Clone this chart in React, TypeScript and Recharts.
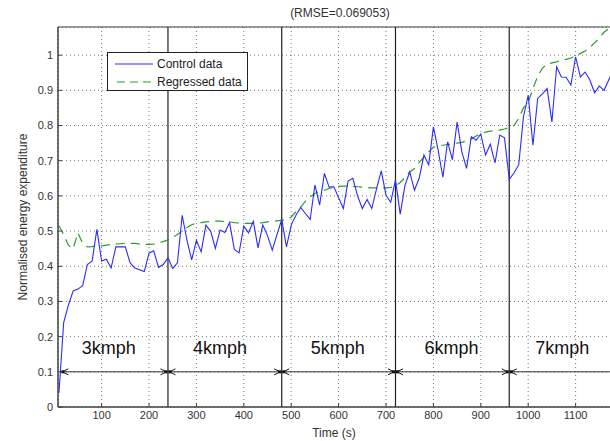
import React from 'react'
import {
  LineChart, Line, XAxis, YAxis, CartesianGrid, ReferenceLine, ReferenceDot,
  ReferenceArea, Legend, Label,
} from 'recharts'

const FONT = '"Liberation Sans", Arial, sans-serif'

// time (s), sampled every 10 s
const times = [
  10, 20, 30, 40, 50, 60, 70, 80, 90, 100, 110, 120, 130, 140, 150, 160, 170, 180, 190, 200,
  210, 220, 230, 240, 250, 260, 270, 280, 290, 300, 310, 320, 330, 340, 350, 360, 370, 380, 390, 400,
  410, 420, 430, 440, 450, 460, 470, 480, 490, 500, 510, 520, 530, 540, 550, 560, 570, 580, 590, 600,
  610, 620, 630, 640, 650, 660, 670, 680, 690, 700, 710, 720, 730, 740, 750, 760, 770, 780, 790, 800,
  810, 820, 830, 840, 850, 860, 870, 880, 890, 900, 910, 920, 930, 940, 950, 960, 970, 980, 990, 1000,
  1010, 1020, 1030, 1040, 1050, 1060, 1070, 1080, 1090, 1100, 1110, 1120, 1130, 1140, 1150, 1160, 1170, 1180, 1190, 1200,
]

const controlData = [
  0.04, 0.24, 0.29, 0.33, 0.335, 0.345, 0.405, 0.415, 0.505, 0.415, 0.42, 0.395, 0.455, 0.455, 0.455, 0.41, 0.395, 0.39, 0.385, 0.437,
  0.444, 0.397, 0.405, 0.424, 0.394, 0.41, 0.545, 0.474, 0.418, 0.474, 0.441, 0.517, 0.5, 0.451, 0.503, 0.496, 0.524, 0.448, 0.438, 0.514,
  0.495, 0.528, 0.452, 0.517, 0.487, 0.446, 0.49, 0.533, 0.455, 0.517, 0.545, 0.567, 0.55, 0.533, 0.631, 0.574, 0.664, 0.625, 0.626, 0.595,
  0.564, 0.642, 0.65, 0.6, 0.564, 0.59, 0.564, 0.62, 0.671, 0.602, 0.582, 0.645, 0.548, 0.63, 0.668, 0.616, 0.65, 0.716, 0.688, 0.796,
  0.73, 0.653, 0.754, 0.703, 0.81, 0.725, 0.678, 0.768, 0.758, 0.776, 0.716, 0.747, 0.694, 0.773, 0.765, 0.647, 0.665, 0.688, 0.825, 0.886,
  0.744, 0.877, 0.89, 0.905, 0.81, 0.967, 0.938, 0.937, 0.915, 0.995, 0.938, 0.952, 0.93, 0.893, 0.912, 0.9, 0.93, 0.96, 0.94, 0.95,
]

const regressedData = [
  0.515, 0.49, 0.46, 0.45, 0.495, 0.465, 0.455, 0.456, 0.458, 0.458, 0.46, 0.462, 0.463, 0.464, 0.465, 0.465, 0.465, 0.463, 0.462, 0.462,
  0.463, 0.467, 0.47, 0.475, 0.482, 0.49, 0.5, 0.51, 0.518, 0.522, 0.524, 0.526, 0.527, 0.528, 0.528, 0.527, 0.526, 0.524, 0.523, 0.522,
  0.522, 0.522, 0.523, 0.524, 0.526, 0.527, 0.529, 0.531, 0.533, 0.54, 0.555, 0.568, 0.585, 0.597, 0.607, 0.613, 0.616, 0.621, 0.625, 0.627,
  0.628, 0.628, 0.627, 0.626, 0.625, 0.624, 0.623, 0.623, 0.623, 0.623, 0.624, 0.628, 0.638, 0.652, 0.668, 0.678, 0.695, 0.71, 0.725, 0.738,
  0.742, 0.744, 0.746, 0.748, 0.75, 0.752, 0.757, 0.762, 0.77, 0.777, 0.781, 0.784, 0.786, 0.787, 0.79, 0.794, 0.8, 0.82, 0.85, 0.866,
  0.905, 0.94, 0.963, 0.975, 0.978, 0.981, 0.985, 0.988, 0.992, 0.997, 1.005, 1.012, 1.022, 1.035, 1.048, 1.065, 1.075, 1.085, 1.095, 1.1,
]

const xTicks = [100, 200, 300, 400, 500, 600, 700, 800, 900, 1000, 1100]
const yTicks = [0, 0.1, 0.2, 0.3, 0.4, 0.5, 0.6, 0.7, 0.8, 0.9, 1]

// speed stages
const stageBounds = [15, 240, 480, 720, 960, 1200]
const stageNames = ['3kmph', '4kmph', '5kmph', '6kmph', '7kmph']
const stageLabelX = [115, 350, 598, 838, 1072]
const arrowLevel = 0.1
const labelLevel = 0.17

const data = times.map((t, i) => ({ t, control: controlData[i], regressed: regressedData[i] }))

const BLUE = '#2b2bff'
const GREEN = '#2f9a2f'
const AXIS = '#404040'

function ArrowSeg(props: any) {
  const { x1, y1, x2 } = props
  const h = 7, w = 3
  return (
    <g stroke="#111" strokeWidth={1} fill="none">
      <line x1={x1} y1={y1} x2={x2} y2={y1} stroke="#333" />
      <polyline points={`${x1 + h},${y1 - w} ${x1 + 1},${y1} ${x1 + h},${y1 + w}`} />
      <polyline points={`${x2 - h},${y1 - w} ${x2 - 1},${y1} ${x2 - h},${y1 + w}`} />
      <rect x={x1} y={y1 - 1.5} width={3} height={3} fill="#111" stroke="none" />
      <rect x={x2 - 3} y={y1 - 1.5} width={3} height={3} fill="#111" stroke="none" />
    </g>
  )
}

function LegendBox() {
  return (
    <div style={{
      border: '1px solid #222', background: '#fff', width: 141, height: 39,
      fontFamily: FONT, fontSize: 12, color: '#222', boxSizing: 'border-box',
    }}>
      <div style={{ display: 'flex', alignItems: 'center', height: 19, marginTop: 1 }}>
        <svg width={46} height={10}><line x1={7} y1={5} x2={45} y2={5} stroke={BLUE} strokeWidth={1.2} /></svg>
        <span style={{ marginLeft: 3 }}>Control data</span>
      </div>
      <div style={{ display: 'flex', alignItems: 'center', height: 18 }}>
        <svg width={46} height={10}><line x1={9} y1={5} x2={45} y2={5} stroke={GREEN} strokeWidth={1.2} strokeDasharray="8 5" /></svg>
        <span style={{ marginLeft: 3 }}>Regressed data</span>
      </div>
    </div>
  )
}

export default function App() {
  const tickStyle = { fontSize: 11, fill: '#333', fontFamily: FONT }
  return (
    <div style={{ position: 'fixed', left: 0, top: 0, width: 610, height: 441, overflow: 'hidden', background: '#fff' }}>
      <div style={{
        position: 'absolute', left: 0, top: 6, width: 680, textAlign: 'center',
        fontFamily: FONT, fontSize: 12, color: '#333',
      }}>(RMSE=0.069053)</div>
      <LineChart width={640} height={441} data={data} margin={{ top: 27, right: 17, bottom: 0, left: 0 }}>
        <CartesianGrid stroke="#777" strokeDasharray="1 3" horizontalPoints={undefined} />
        <XAxis
          dataKey="t" type="number" domain={[8, 1200]} ticks={xTicks} allowDataOverflow
          height={34} tickSize={-4} tickMargin={8} stroke={AXIS} tick={tickStyle} interval={0}
        >
          <Label
            content={(p: any) => (
              <text x={334} y={p.viewBox.y + 30} textAnchor="middle" fontSize={12} fill="#333" fontFamily={FONT}>Time (s)</text>
            )}
          />
        </XAxis>
        <XAxis
          xAxisId="top" orientation="top" type="number" domain={[8, 1200]} ticks={xTicks}
          height={0} tickSize={-4} tick={false} stroke={AXIS} allowDataOverflow
        />
        <YAxis
          type="number" domain={[0, 1.08]} ticks={yTicks} allowDataOverflow width={58}
          tickSize={-4} tickMargin={9} stroke={AXIS} tick={tickStyle} interval={0}
        >
          <Label
            content={(p: any) => {
              const cy = p.viewBox.y + p.viewBox.height / 2
              return (
                <text x={27} y={cy} transform={`rotate(-90 27 ${cy})`} textAnchor="middle"
                  fontSize={12} fill="#333" fontFamily={FONT}>Normalised energy expenditure</text>
              )
            }}
          />
        </YAxis>
        <ReferenceArea x1={8} x2={1200} y1={0} y2={1.08} fill="none" stroke={AXIS} strokeWidth={1} />
        {stageBounds.slice(1, -1).map(b => (
          <ReferenceLine key={b} x={b} stroke="#222" strokeWidth={1.2} />
        ))}
        {stageNames.map((n, i) => (
          <ReferenceLine
            key={'a' + n}
            segment={[{ x: i === 0 ? stageBounds[0] : stageBounds[i] + 1, y: arrowLevel }, { x: stageBounds[i + 1] - 1, y: arrowLevel }]}
            shape={(p: any) => <ArrowSeg {...p} />}
          />
        ))}
        {stageNames.map((n, i) => (
          <ReferenceDot
            key={'l' + n} x={stageLabelX[i]} y={labelLevel} r={0} fill="none" stroke="none"
            label={{ value: n, position: 'center', fontSize: 18, fill: '#111', fontFamily: FONT }}
          />
        ))}
        <Line type="linear" dataKey="regressed" stroke={GREEN} strokeWidth={1.2} strokeDasharray="9 6" dot={false} isAnimationActive={false} />
        <Line type="linear" dataKey="control" stroke={BLUE} strokeWidth={1.1} dot={false} isAnimationActive={false} />
        <Legend
          layout="vertical" verticalAlign="middle" align="center"
          wrapperStyle={{ position: 'absolute', left: 107, top: 52, width: 'auto', height: 'auto' }}
          content={() => <LegendBox />}
        />
      </LineChart>
    </div>
  )
}
